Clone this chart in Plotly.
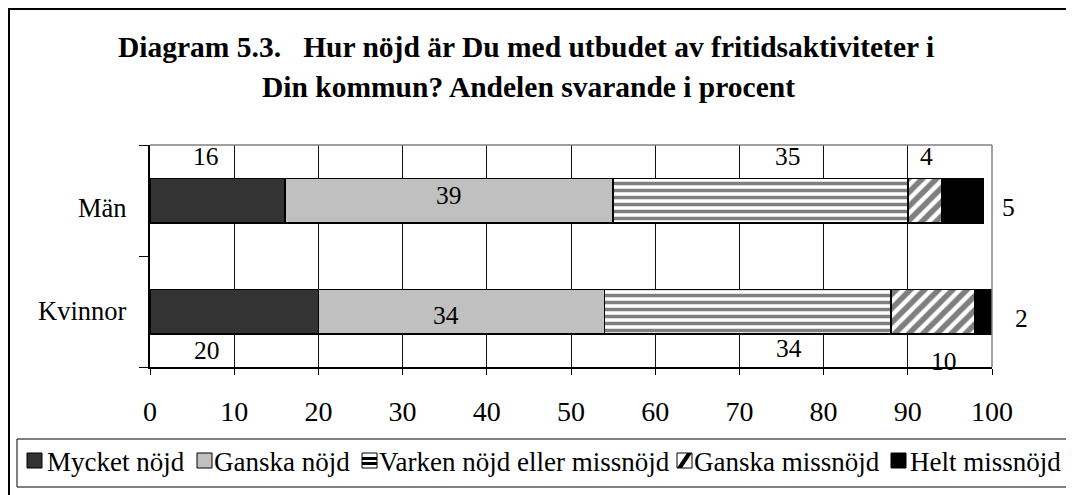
import plotly.graph_objects as go

# ---------------- data ----------------
categories = ["Män", "Kvinnor"]
series = ["Mycket nöjd", "Ganska nöjd", "Varken nöjd eller missnöjd",
          "Ganska missnöjd", "Helt missnöjd"]
man_values = [16, 39, 35, 4, 5]
kvinnor_values = [20, 34, 34, 10, 2]
x_ticks = [0, 10, 20, 30, 40, 50, 60, 70, 80, 90, 100]
title_line1 = "Diagram 5.3.\u00a0\u00a0 Hur nöjd är Du med utbudet av fritidsaktiviteter i"
title_line2 = "Din kommun? Andelen svarande i procent"

# ---------------- style ----------------
FONT = "Liberation Serif, Times New Roman, serif"
OFF = 8                      # default page (body) margin
PAGE_W, PAGE_H = 1074, 495
W, H = PAGE_W - OFF, PAGE_H - OFF
L, R, T, B = 150, 992, 145, 367   # plot area in page pixels

styles = [
    dict(color="#333333"),
    dict(color="#C0C0C0"),
    dict(color="white", pattern=dict(shape="-", fgcolor="black", bgcolor="white",
                                     size=7, solidity=0.5)),
    dict(color="white", pattern=dict(shape="/", fgcolor="black", bgcolor="white",
                                     size=10, solidity=0.55)),
    dict(color="black"),
]

# label offsets (xshift, yshift in px) relative to segment centre
label_offsets = {
    "Män": [(-11, 44), (0, 5), (28, 44), (2, 44), (46, -7)],
    "Kvinnor": [(-27, -39), (-16, -4), (41, -37), (11, -50), (38, -7)],
}
cat_label_shift = {"Män": -7, "Kvinnor": 1}


def px_x(px):
    return (px - L) / (R - L)


def px_y(py):
    return (B - py) / (B - T)


fig = go.Figure()
for i, s in enumerate(series):
    st = styles[i]
    marker = dict(color=st["color"], line=dict(color="black", width=1.6))
    if "pattern" in st:
        marker["pattern"] = st["pattern"]
    fig.add_trace(go.Bar(
        y=categories, x=[man_values[i], kvinnor_values[i]], orientation="h",
        name=s, marker=marker, showlegend=False, hoverinfo="x+name",
    ))

annotations = []
for cat, vals in (("Män", man_values), ("Kvinnor", kvinnor_values)):
    cum = 0
    for i, v in enumerate(vals):
        dx, dy = label_offsets[cat][i]
        annotations.append(dict(
            x=cum + v / 2, y=cat, xref="x", yref="y", text=str(v),
            showarrow=False, xshift=dx, yshift=dy,
            font=dict(family=FONT, size=25.5, color="black"),
        ))
        cum += v
    # category label
    annotations.append(dict(
        x=px_x(128), y=cat, xref="paper", yref="y", text=cat,
        showarrow=False, xanchor="right", yanchor="middle", borderpad=0,
        yshift=cat_label_shift[cat],
        font=dict(family=FONT, size=26.5, color="black"),
    ))

# title
annotations.append(dict(x=px_x(526), y=px_y(47), xref="paper", yref="paper",
                        text="<b>" + title_line1 + "</b>", showarrow=False,
                        xanchor="center", yanchor="middle",
                        font=dict(family=FONT, size=29.5, color="black")))
annotations.append(dict(x=px_x(528), y=px_y(87), xref="paper", yref="paper",
                        text="<b>" + title_line2 + "</b>", showarrow=False,
                        xanchor="center", yanchor="middle",
                        font=dict(family=FONT, size=29.5, color="black")))

# legend (manual, Excel-like)
legend_sym_x = [27, 197, 362, 677, 891]
legend_txt_x = [46, 213, 378, 693, 909]
SYM = 15
sym_top, sym_bot = 453, 468
shapes = []
for i, s in enumerate(series):
    annotations.append(dict(x=px_x(legend_txt_x[i]), y=px_y(462), xref="paper", yref="paper",
                            text=s, showarrow=False, xanchor="left", yanchor="middle",
                            borderpad=0,
                            font=dict(family=FONT, size=27, color="black")))
    x0 = legend_sym_x[i]
    fill = styles[i]["color"]
    shapes.append(dict(type="rect", xref="paper", yref="paper",
                       x0=px_x(x0), x1=px_x(x0 + SYM), y0=px_y(sym_bot), y1=px_y(sym_top),
                       fillcolor=fill, line=dict(color="black", width=1)))
    if i == 2:
        for yy in (457, 462):
            shapes.append(dict(type="rect", xref="paper", yref="paper",
                               x0=px_x(x0), x1=px_x(x0 + SYM), y0=px_y(yy + 3), y1=px_y(yy),
                               fillcolor="black", line=dict(width=0)))
    if i == 3:
        path = "M {} {} L {} {} L {} {} L {} {} Z".format(
            px_x(x0), px_y(sym_bot), px_x(x0 + SYM - 5), px_y(sym_top),
            px_x(x0 + SYM), px_y(sym_top), px_x(x0 + 5), px_y(sym_bot))
        shapes.append(dict(type="path", xref="paper", yref="paper", path=path,
                           fillcolor="black", line=dict(width=0)))

# legend box
shapes.append(dict(type="rect", xref="paper", yref="paper",
                   x0=px_x(17), x1=px_x(1071), y0=px_y(487), y1=px_y(439),
                   line=dict(color="black", width=1), layer="below"))
# plot-area border top/right (gray)
shapes.append(dict(type="line", xref="paper", yref="paper", x0=0, x1=1, y0=1, y1=1,
                   line=dict(color="#808080", width=1.5)))
shapes.append(dict(type="line", xref="paper", yref="paper", x0=1, x1=1, y0=0, y1=1,
                   line=dict(color="#808080", width=1.5)))
# outer chart frame (top & left)
shapes.append(dict(type="line", xref="paper", yref="paper", x0=px_x(8), x1=px_x(1080),
                   y0=px_y(9), y1=px_y(9), line=dict(color="black", width=2)))
shapes.append(dict(type="line", xref="paper", yref="paper", x0=px_x(9), x1=px_x(9),
                   y0=px_y(8), y1=px_y(500), line=dict(color="black", width=2)))

fig.update_layout(
    width=W, height=H, autosize=False,
    margin=dict(l=L - OFF, r=PAGE_W - R, t=T - OFF, b=PAGE_H - B, pad=0),
    paper_bgcolor="white", plot_bgcolor="white",
    barmode="stack", bargap=0.6,
    font=dict(family=FONT, size=25.5, color="black"),
    annotations=annotations, shapes=shapes,
    xaxis=dict(range=[0, 100], tickvals=x_ticks, ticks="outside", ticklen=6,
               tickcolor="black", showline=True, linecolor="black", linewidth=1.5,
               showgrid=True, gridcolor="#111111", gridwidth=1, zeroline=False,
               ticklabelstandoff=13,
               tickfont=dict(family=FONT, size=28, color="black")),
    yaxis=dict(type="category", categoryorder="array", categoryarray=["Kvinnor", "Män"],
               range=[-0.5, 1.5],
               tickson="boundaries", ticks="outside", ticklen=9, tickcolor="black",
               showline=True, linecolor="black", linewidth=1.5, showgrid=False,
               zeroline=False, showticklabels=False),
)

fig.write_html("out.html")
